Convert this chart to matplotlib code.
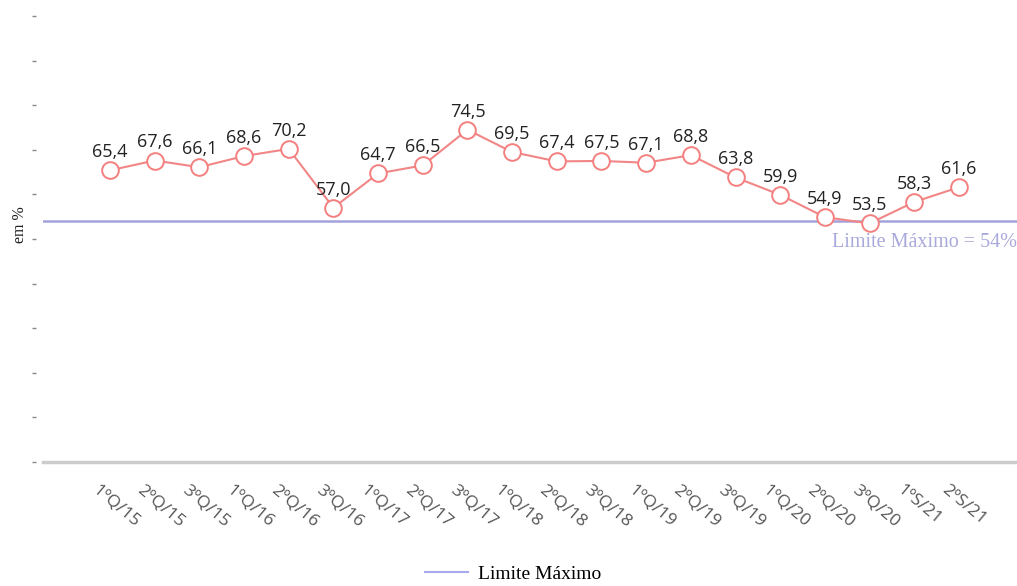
import matplotlib
matplotlib.use("Agg")
import matplotlib.pyplot as plt
from matplotlib.lines import Line2D
from matplotlib.transforms import ScaledTranslation

categories = ["1ºQ/15", "2ºQ/15", "3ºQ/15", "1ºQ/16", "2ºQ/16", "3ºQ/16",
              "1ºQ/17", "2ºQ/17", "3ºQ/17", "1ºQ/18", "2ºQ/18", "3ºQ/18",
              "1ºQ/19", "2ºQ/19", "3ºQ/19", "1ºQ/20", "2ºQ/20", "3ºQ/20",
              "1ºS/21", "2ºS/21"]
values = [65.4, 67.6, 66.1, 68.6, 70.2, 57.0, 64.7, 66.5, 74.5, 69.5,
          67.4, 67.5, 67.1, 68.8, 63.8, 59.9, 54.9, 53.5, 58.3, 61.6]
limite = 54
yticks = list(range(0, 101, 10))

W, H = 1017, 586
fig = plt.figure(figsize=(W / 100, H / 100), dpi=100)
ax = fig.add_axes([43 / W, 1 - 462 / H, 1 - 43 / W, (462 - 16) / H])

x = list(range(len(values)))
ax.axhline(limite, color="#a3a3dc", lw=1.8, zorder=1)
ax.plot(x, values, color="#f28686", lw=1.5, marker="o", markersize=12,
        markerfacecolor="white", markeredgecolor="#f47f7f", markeredgewidth=1.4,
        zorder=3)
for xi, v in zip(x, values):
    ax.annotate(f"{v:.1f}".replace(".", ","), (xi, v), xytext=(0, 9.5),
                textcoords="offset points", ha="center", va="baseline",
                fontsize=13, color="#222222", family="Open Sans", zorder=4)

ax.text(1.0, limite - 2.6, f"Limite Máximo = {limite}%", transform=ax.get_yaxis_transform(),
        ha="right", va="top", fontsize=14.5, color="#a9a9dc", family="Liberation Serif")

ax.set_xlim(-1.5, 20.3)
ax.set_ylim(0, 100)
ax.set_yticks(yticks)
ax.set_yticklabels([])
ax.set_xticks(x)
ax.tick_params(axis="x", length=0, pad=14)
ax.tick_params(axis="y", length=3, color="#888888", width=1)
ax.set_xticklabels(categories, rotation=-40, ha="left", va="top",
                   rotation_mode="anchor", fontsize=12.5, color="#555555", family="Open Sans")
offset = ScaledTranslation(-10 / 100, 0, fig.dpi_scale_trans)
for lbl in ax.get_xticklabels():
    lbl.set_transform(lbl.get_transform() + offset)

for s in ["top", "right", "left"]:
    ax.spines[s].set_visible(False)
ax.spines["left"].set_position(("outward", 5))
ax.spines["bottom"].set_color("#cccccc")
ax.spines["bottom"].set_linewidth(2.5)

fig.text(20 / W, 1 - 225 / H, "em %", rotation=90, ha="center", va="center",
         fontsize=11.5, family="Liberation Serif", color="#222222")

handle = Line2D([0], [0], color="#a9a9ee", lw=1.5)
fig.legend([handle], ["Limite Máximo"], loc="center", bbox_to_anchor=(513 / W, 1 - 574 / H),
           frameon=False, prop={"family": "Liberation Serif", "size": 14},
           handlelength=2.2, handletextpad=0.5)

fig.savefig("out.png", dpi=100, facecolor="white")
